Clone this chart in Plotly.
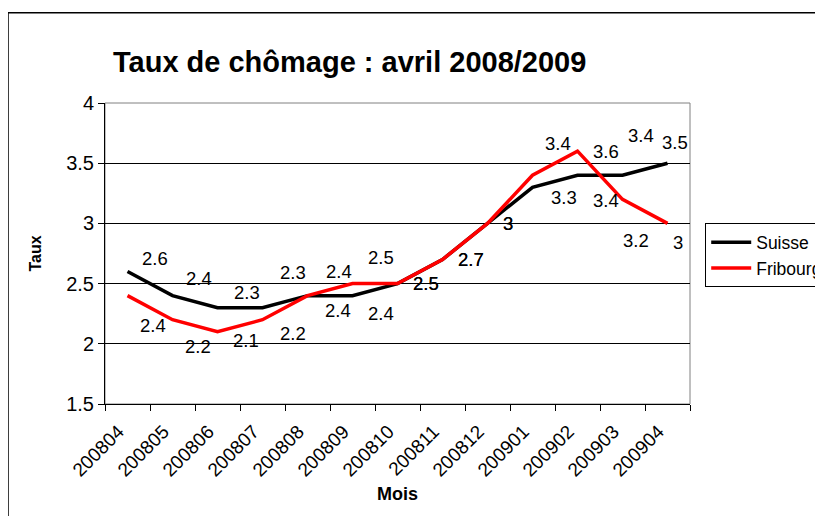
import plotly.graph_objects as go

months = ["200804", "200805", "200806", "200807", "200808", "200809", "200810",
          "200811", "200812", "200901", "200902", "200903", "200904"]
suisse = [2.6, 2.4, 2.3, 2.3, 2.4, 2.4, 2.5, 2.7, 3.0, 3.3, 3.4, 3.4, 3.5]
fribourg = [2.4, 2.2, 2.1, 2.2, 2.4, 2.5, 2.5, 2.7, 3.0, 3.4, 3.6, 3.2, 3.0]

# data-label offsets in pixels (style only)
suisse_dx = [27, 26, 29, 30, 31, 28, 28, 28, 20, 31, 28, 18, 7]
suisse_dy = [13, 17, 15, 35, 24, -18, 0, 0, 0, -10, -25, 40, 21]
fribourg_dx = [25, 25, 28, 30, 30, 28, 28, 28, 20, 25, 28, 13, 10]
fribourg_dy = [-30, -27, -9, -14, -15, 26, 0, 0, 0, 32, 0, -41, -19]

FONT = "Liberation Sans, Arial, sans-serif"
W, H = 815, 508  # page adds an 8px body margin

fig = go.Figure()
fig.add_trace(go.Scatter(x=months, y=suisse, mode="lines", name="Suisse",
                         line=dict(color="black", width=3.5)))
fig.add_trace(go.Scatter(x=months, y=fribourg, mode="lines", name="Fribourg",
                         line=dict(color="#FF0000", width=3.5)))

for vals, dxs, dys in ((suisse, suisse_dx, suisse_dy),
                       (fribourg, fribourg_dx, fribourg_dy)):
    for i, (v, dx, dy) in enumerate(zip(vals, dxs, dys)):
        fig.add_annotation(x=i, y=v, xref="x", yref="y",
                           text=f"{v:g}", showarrow=False,
                           xshift=dx, yshift=dy,
                           font=dict(family=FONT, size=18.5, color="black"))

# plot frame (gray) and outer chart border
fig.add_shape(type="rect", xref="paper", yref="paper", x0=0, x1=1, y0=0, y1=1,
              line=dict(color="#808080", width=1), layer="below")
fig.add_shape(type="rect", xref="paper", yref="paper",
              x0=-0.1658, x1=1.4, y0=-0.6, y1=1.3,
              line=dict(color="black", width=1.5))

fig.update_layout(
    width=W, height=H,
    margin=dict(l=97, r=133, t=95, b=112, autoexpand=False),
    paper_bgcolor="white", plot_bgcolor="white",
    font=dict(family=FONT, color="black"),
    title=dict(text="<b>Taux de chômage : avril 2008/2009</b>",
               x=105 / W, xanchor="left", xref="container",
               y=1 - 54 / H, yanchor="middle", yref="container",
               font=dict(family=FONT, size=29, color="black")),
    showlegend=True,
    legend=dict(x=1.026, y=0.6, xanchor="left", yanchor="top",
                bordercolor="black", borderwidth=1, bgcolor="white",
                font=dict(family=FONT, size=17.5, color="black"),
                tracegroupgap=0, itemwidth=40),
    xaxis=dict(type="category", range=[-0.5, 12.5],
               tickson="boundaries", ticks="outside", ticklen=6,
               tickcolor="black", showline=True, linecolor="black", linewidth=1,
               showgrid=False, tickangle=-45,
               ticklabelstandoff=8, ticklabelshift=-9,
               tickfont=dict(family=FONT, size=19, color="black"),
               title=dict(text="<b>Mois</b>", standoff=7,
                          font=dict(family=FONT, size=18, color="black"))),
    yaxis=dict(range=[1.5, 4], dtick=0.5, tick0=1.5,
               ticks="outside", ticklen=6, tickcolor="black",
               showline=True, linecolor="black", linewidth=1,
               showgrid=True, gridcolor="black", gridwidth=1,
               zeroline=False,
               tickfont=dict(family=FONT, size=20, color="black"),
               title=dict(text="<b>Taux</b>", standoff=20,
                          font=dict(family=FONT, size=16, color="black"))),
)

fig.write_html("out.html")
